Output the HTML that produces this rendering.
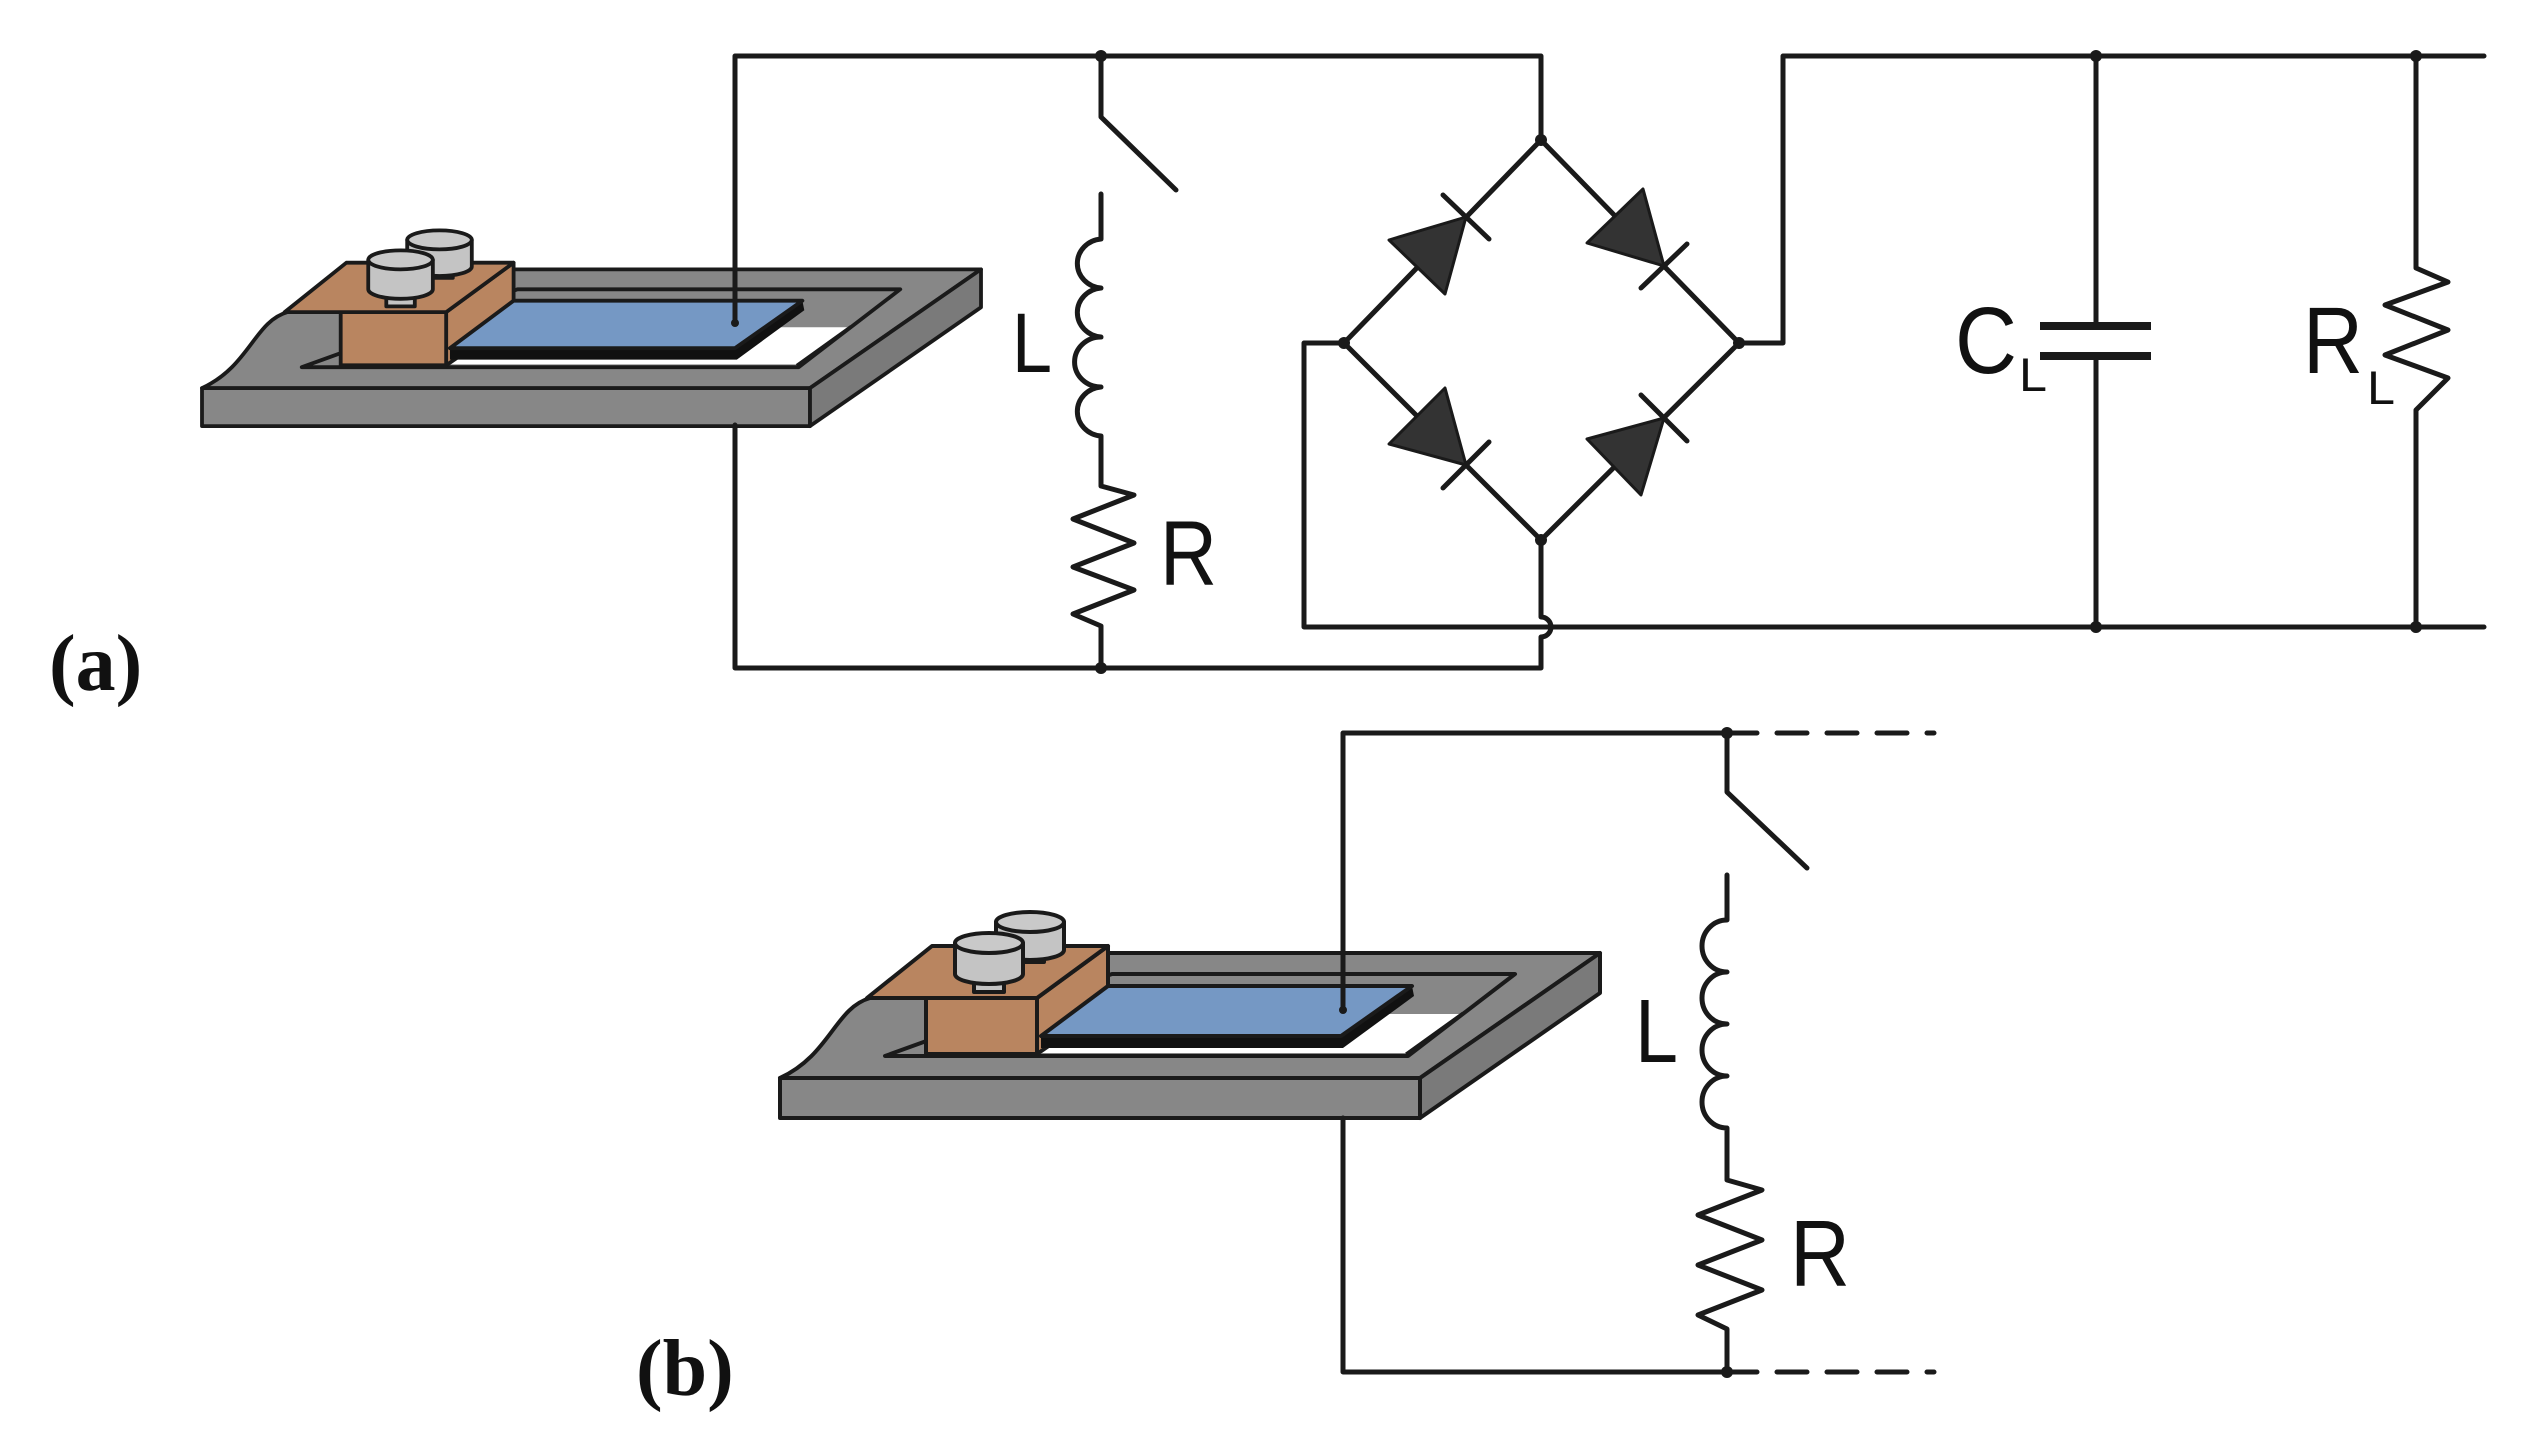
<!DOCTYPE html>
<html><head><meta charset="utf-8"><style>
html,body{margin:0;padding:0;background:#fff}
svg{display:block}
.w{fill:none;stroke:#1a1a1a;stroke-width:5;stroke-linejoin:round;stroke-linecap:round}
.o{stroke:#1a1a1a;stroke-width:4;stroke-linejoin:round}
.t{font-family:"Liberation Sans",sans-serif;fill:#111}
.s{font-family:"Liberation Serif",serif;font-weight:bold;fill:#111}
</style></head><body>
<svg width="2541" height="1433" viewBox="0 0 2541 1433" xmlns="http://www.w3.org/2000/svg">
<defs>
<g id="dev">
  <path class="o" fill="#878787" d="M780,1078 L1420,1078 L1600,953 L1100,953 L870,998 C835,1008 830,1055 780,1078 Z"/>
  <polygon class="o" fill="#878787" points="885,1056 1408,1056 1515,974 1112,974"/>
  <polygon fill="#fff" points="935,1053 1405,1053 1461,1014 965,1014"/>
  <line x1="1406" y1="1054" x2="1463" y2="1013" stroke="#1a1a1a" stroke-width="3"/>
  <polygon class="o" fill="#878787" points="780,1078 1420,1078 1420,1118 780,1118"/>
  <polygon class="o" fill="#7a7a7a" points="1420,1078 1600,953 1600,993 1420,1118"/>
  <polygon class="o" fill="#b98560" points="1037,998 1108,946 1108,1005 1037,1054"/>
  <polygon class="o" fill="#b98560" points="926,998 1037,998 1037,1054 926,1054"/>
  <polygon class="o" fill="#b98560" points="867,998 1037,998 1108,946 932,946"/>
  <rect class="o" fill="#c4c4c4" x="1014" y="948" width="30" height="14"/>
  <path class="o" fill="#c4c4c4" d="M996,922 L996,950 A34,10 0 0 0 1064,950 L1064,922 Z"/>
  <ellipse class="o" fill="#c9c9c9" cx="1030" cy="922" rx="34" ry="10"/>
  <rect class="o" fill="#c4c4c4" x="974" y="978" width="30" height="14"/>
  <path class="o" fill="#c4c4c4" d="M955,943 L955,974 A34,10 0 0 0 1023,974 L1023,943 Z"/>
  <ellipse class="o" fill="#c9c9c9" cx="989" cy="943" rx="34" ry="10"/>
  <polygon fill="#111" points="1041,1036 1341,1036 1412,986 1414,996 1343,1048 1041,1048"/>
  <polygon class="o" fill="#7598c4" points="1041,1036 1341,1036 1412,986 1108,986"/>
</g>
</defs>

<!-- ===== (a) ===== -->
<g transform="matrix(0.95,0,0,0.95,-539,-636)"><use href="#dev"/></g>
<path class="w" d="M735,323 L735,56 L1541,56 L1541,140"/>
<path class="w" d="M735,425 L735,668 L1541,668 L1541,637 A10,10 0 0 0 1541,617 L1541,540"/>
<circle cx="735" cy="323" r="4" fill="#1a1a1a"/>
<path class="w" d="M1101,56 L1101,117 L1176,190"/>
<path class="w" d="M1101,194 L1101,239 A26,24.6 0 0 0 1101,288 A26,24.6 0 0 0 1101,337 A26,24.6 0 0 0 1101,387 A26,24.6 0 0 0 1101,436 L1101,486 L1134,495 L1073,519 L1134,543 L1073,567 L1134,590 L1073,614 L1101,626 L1101,668"/>
<circle cx="1101" cy="56" r="6" fill="#1a1a1a"/>
<circle cx="1101" cy="668" r="6" fill="#1a1a1a"/>
<text class="t" x="1012" y="372" font-size="84" textLength="40" lengthAdjust="spacingAndGlyphs">L</text>
<text class="t" x="1160" y="585" font-size="92" textLength="57" lengthAdjust="spacingAndGlyphs">R</text>

<path class="w" d="M1344,343 L1541,140 L1739,343 L1541,540 Z"/>
<path class="w" d="M1344,343 L1304,343 L1304,627 L2484,627"/>
<path class="w" d="M1739,343 L1783,343 L1783,56 L2484,56"/>
<g fill="#333" stroke="#1a1a1a" stroke-width="3" stroke-linejoin="round">
  <polygon points="1466,217 1445,294 1389,240"/>
  <polygon points="1664,266 1587,243 1643,189"/>
  <polygon points="1466,465 1389,444 1445,388"/>
  <polygon points="1664,418 1641,495 1587,439"/>
</g>
<g class="w">
  <line x1="1489" y1="239" x2="1443" y2="195"/>
  <line x1="1641" y1="288" x2="1687" y2="244"/>
  <line x1="1443" y1="488" x2="1489" y2="442"/>
  <line x1="1687" y1="441" x2="1641" y2="395"/>
</g>
<g fill="#1a1a1a">
  <circle cx="1541" cy="140" r="6"/><circle cx="1344" cy="343" r="6"/>
  <circle cx="1739" cy="343" r="6"/><circle cx="1541" cy="540" r="6"/>
</g>
<path class="w" d="M2096,56 L2096,326 M2096,356 L2096,627"/>
<line x1="2040" y1="326" x2="2151" y2="326" stroke="#1a1a1a" stroke-width="8"/>
<line x1="2040" y1="356" x2="2151" y2="356" stroke="#1a1a1a" stroke-width="8"/>
<text class="t" x="1955" y="373" font-size="95" textLength="62" lengthAdjust="spacingAndGlyphs">C</text>
<text class="t" x="2019" y="391" font-size="47" textLength="28" lengthAdjust="spacingAndGlyphs">L</text>
<path class="w" d="M2416,56 L2416,268 L2448,282 L2385,305 L2448,330 L2385,355 L2448,378 L2416,410 L2416,627"/>
<text class="t" x="2303" y="373" font-size="95" textLength="60" lengthAdjust="spacingAndGlyphs">R</text>
<text class="t" x="2367" y="404" font-size="47" textLength="28" lengthAdjust="spacingAndGlyphs">L</text>
<g fill="#1a1a1a">
  <circle cx="2096" cy="56" r="6"/><circle cx="2096" cy="627" r="6"/>
  <circle cx="2416" cy="56" r="6"/><circle cx="2416" cy="627" r="6"/>
</g>
<text class="s" x="49" y="690" font-size="80">(a)</text>

<!-- ===== (b) ===== -->
<use href="#dev"/>
<path class="w" d="M1343,1010 L1343,733 L1727,733"/>
<path class="w" d="M1343,1118 L1343,1372 L1727,1372"/>
<circle cx="1343" cy="1010" r="4" fill="#1a1a1a"/>
<path class="w" d="M1727,733 L1934,733 M1727,1372 L1934,1372" stroke-dasharray="30,20"/>
<path class="w" d="M1727,733 L1727,792 L1807,868"/>
<path class="w" d="M1727,875 L1727,920 A25,26 0 0 0 1727,972 A25,26 0 0 0 1727,1024 A25,26 0 0 0 1727,1076 A25,26 0 0 0 1727,1128 L1727,1180 L1762,1190 L1698,1215 L1762,1240 L1698,1265 L1762,1290 L1698,1315 L1727,1329 L1727,1372"/>
<circle cx="1727" cy="733" r="6" fill="#1a1a1a"/>
<circle cx="1727" cy="1372" r="6" fill="#1a1a1a"/>
<text class="t" x="1635" y="1062" font-size="90" textLength="43" lengthAdjust="spacingAndGlyphs">L</text>
<text class="t" x="1790" y="1286" font-size="94" textLength="60" lengthAdjust="spacingAndGlyphs">R</text>
<text class="s" x="636" y="1395" font-size="80">(b)</text>
</svg>
</body></html>
